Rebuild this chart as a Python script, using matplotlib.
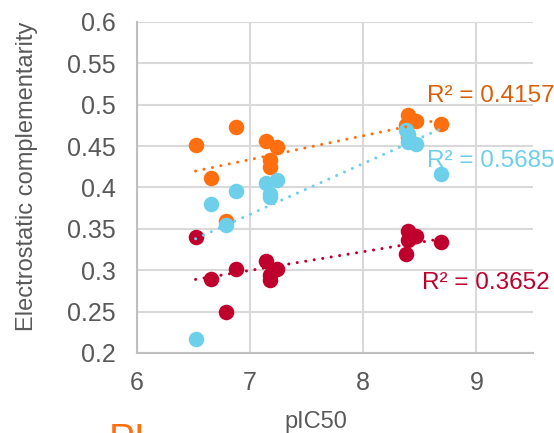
import numpy as np
import matplotlib
matplotlib.use("Agg")
import matplotlib.pyplot as plt

# pIC50 of each compound and its electrostatic complementarity score per set
pic50 = [6.52, 6.66, 6.79, 6.88, 7.14, 7.18, 7.18, 7.24, 8.38, 8.40, 8.40, 8.47, 8.69]
ec_orange = [0.451, 0.411, 0.359, 0.473, 0.456, 0.433, 0.425, 0.449, 0.475, 0.488, 0.461, 0.480, 0.477]
ec_cyan = [0.217, 0.380, 0.355, 0.396, 0.406, 0.389, 0.392, 0.409, 0.470, 0.455, 0.465, 0.453, 0.416]
ec_red = [0.340, 0.290, 0.249, 0.302, 0.311, 0.288, 0.294, 0.301, 0.320, 0.347, 0.337, 0.341, 0.334]

r2_labels = ["R² = 0.4157", "R² = 0.5685", "R² = 0.3652"]
label_pos = [(8.56, 0.511), (8.56, 0.432), (8.52, 0.285)]

y_ticks = [0.2, 0.25, 0.3, 0.35, 0.4, 0.45, 0.5, 0.55, 0.6]
y_ticklabels = ["0.2", "0.25", "0.3", "0.35", "0.4", "0.45", "0.5", "0.55", "0.6"]
x_ticks = [6, 7, 8, 9]

plt.rcParams['font.family'] = ['Liberation Sans', 'DejaVu Sans']

fig = plt.figure(figsize=(5.54, 4.33), dpi=100)
ax = fig.add_axes([0.2468, 0.1848, 0.7153, 0.7644])

series = [
    (ec_orange, '#FF6F10', '#D85F0C'),
    (ec_cyan, '#6DCFEA', '#6DCFEA'),
    (ec_red, '#C0002C', '#C0002C'),
]

x = np.array(pic50)
for ys, col, _ in series:
    ax.scatter(x, ys, s=125, color=col, zorder=3, linewidths=0)

# linear trendlines drawn over the points, from min to max pIC50
for ys, col, _ in series:
    k, b = np.polyfit(x, ys, 1)
    xx = np.array([x.min(), x.max()])
    ax.plot(xx, k * xx + b, color=col, lw=2.2, linestyle=(0, (0.01, 2.8)),
            dash_capstyle='round', zorder=4)

for (ys, _, tcol), txt, (tx, ty) in zip(series, r2_labels, label_pos):
    ax.text(tx, ty, txt, color=tcol, fontsize=17.5, ha='left', va='center',
            clip_on=False, zorder=5)

ax.set_xlim(6, 9.5)
ax.set_ylim(0.2, 0.6)
ax.set_xticks(x_ticks)
ax.set_yticks(y_ticks)
ax.set_yticklabels(y_ticklabels)
ax.tick_params(length=0, labelsize=18, colors='#595959')
ax.tick_params(axis='y', pad=15)
ax.tick_params(axis='x', pad=13)

ax.grid(True, color='#D9D9D9', lw=1.5)
ax.set_axisbelow(True)
for side in ['top', 'right']:
    ax.spines[side].set_visible(False)
for side in ['left', 'bottom']:
    ax.spines[side].set_color('#BFBFBF')
    ax.spines[side].set_linewidth(1.5)

ax.set_ylabel('Electrostatic complementarity', fontsize=17, color='#595959')
ax.yaxis.set_label_coords(-0.25, 0.533)
ax.set_xlabel('pIC50', fontsize=17, color='#595959')
ax.xaxis.set_label_coords(0.451, -0.208)
ax.xaxis.label.set_va('center')

# heading of the panel below, cut off by the figure edge
fig.text(0.197, -0.06, 'PI', color='#FF6F10', fontsize=28, ha='left', va='bottom')

fig.savefig('out.png', dpi=100)
